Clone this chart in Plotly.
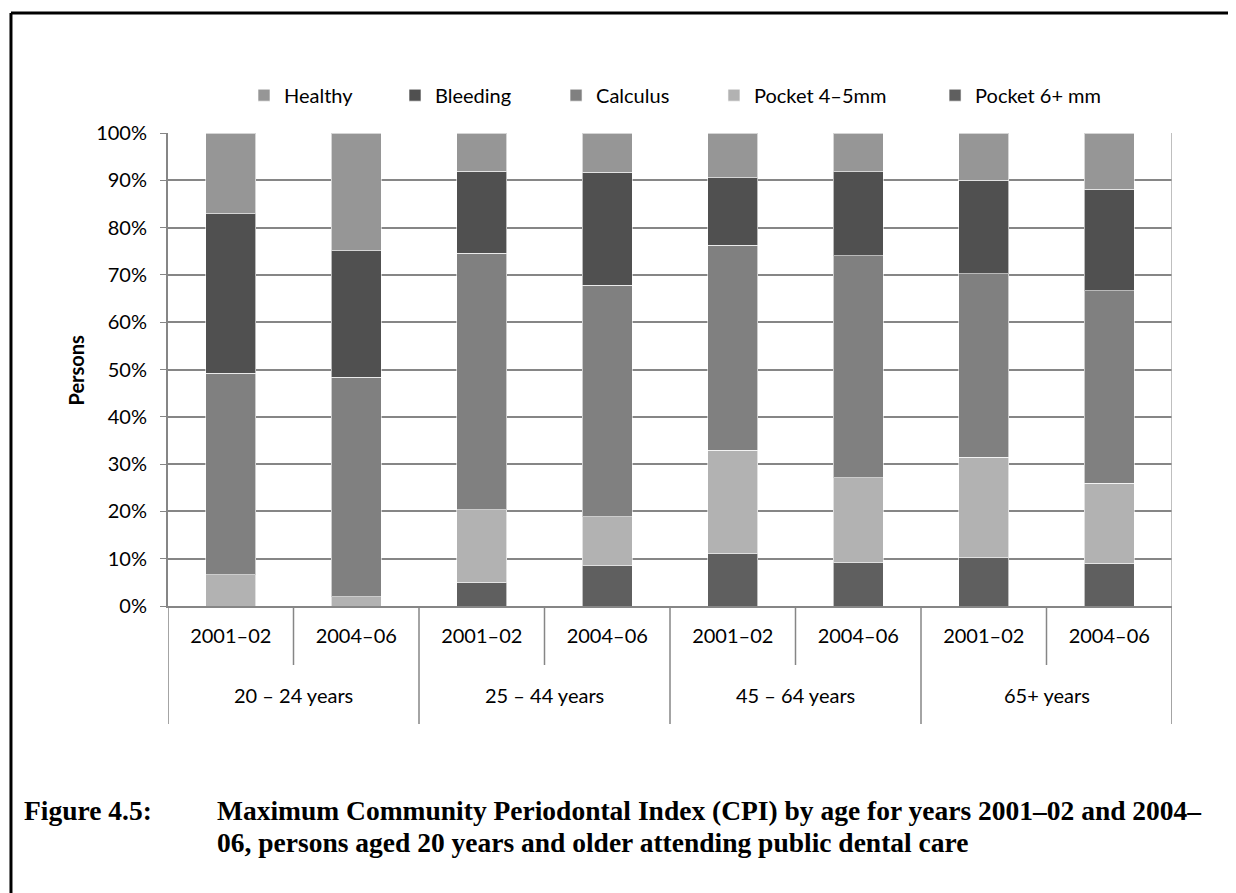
import plotly.graph_objects as go

# data (percent of persons)
age_groups = ["20 – 24 years", "25 – 44 years", "45 – 64 years", "65+ years"]
periods = ["2001–02", "2004–06"]

pocket_6 = [0.0, 0.0, 5.0, 8.5, 11.0, 9.1, 10.2, 9.0]
pocket_45 = [6.6, 2.0, 15.3, 10.4, 21.9, 18.0, 21.2, 16.9]
calculus = [42.6, 46.4, 54.3, 48.9, 43.4, 46.9, 38.8, 40.7]
bleeding = [33.7, 26.7, 17.3, 23.9, 14.2, 17.8, 19.8, 21.5]
healthy = [17.1, 24.9, 8.1, 8.3, 9.5, 8.2, 10.0, 11.9]

# (name, values, colour, legend id, legend x) -- stacked bottom to top
series = [
    ("Pocket 6+ mm", pocket_6, "#5f5f5f", "legend5", 0.7640),
    ("Pocket 4–5mm", pocket_45, "#b2b2b2", "legend4", 0.5438),
    ("Calculus", calculus, "#808080", "legend3", 0.3865),
    ("Bleeding", bleeding, "#505050", "legend2", 0.2261),
    ("Healthy", healthy, "#969696", "legend", 0.0757),
]

period_labels = [p for _ in age_groups for p in periods]
xpos = list(range(len(period_labels)))
n_per = len(periods)

FONT = "Lato, 'Open Sans', sans-serif"
CAPTION_FONT = "'Liberation Serif', 'Times New Roman', serif"
GRID = "#868686"

fig = go.Figure()
legends = {}
for name, vals, color, leg, lx in series:
    fig.add_trace(go.Bar(
        x=xpos, y=vals, name=name, legend=leg,
        marker=dict(color=color, line=dict(color="rgba(255,255,255,0.6)", width=1)),
    ))
    legends[leg] = dict(
        orientation="h", x=lx, xanchor="left", y=1.080, yanchor="middle",
        font=dict(size=20, color="black"), itemwidth=30, bgcolor="rgba(0,0,0,0)",
    )

fig.update_layout(
    width=1236, height=893,
    barmode="stack", bargap=0.6,
    plot_bgcolor="white", paper_bgcolor="white",
    # page body adds an 8px offset, margins compensate for it
    margin=dict(l=160, r=72, t=125, b=295, autoexpand=False),
    font=dict(family=FONT, size=20, color="black"),
    showlegend=True,
    xaxis=dict(
        range=[-0.5, len(xpos) - 0.5],
        tickvals=xpos, ticktext=period_labels,
        ticks="outside", ticklen=11, tickcolor="rgba(0,0,0,0)",
        showgrid=False, zeroline=False,
        showline=True, linecolor=GRID, linewidth=2,
        tickfont=dict(size=20),
    ),
    yaxis=dict(
        range=[0, 100], dtick=10, ticksuffix="%",
        showgrid=True, gridcolor=GRID, gridwidth=1.5,
        zeroline=False,
        showline=True, linecolor=GRID, linewidth=2,
        ticks="outside", ticklen=6, tickcolor=GRID,
        ticklabelstandoff=9,
        tickfont=dict(size=20),
    ),
    **legends,
)

# category dividers below the axis
shapes = []
for i in range(len(xpos) + 1):
    outer = i % n_per == 0
    shapes.append(dict(
        type="line", xref="x", yref="paper",
        x0=i - 0.5, x1=i - 0.5, y0=0, y1=-0.2495 if outer else -0.1247,
        line=dict(color=GRID, width=1.5),
    ))
# light right edge of the plot
shapes.append(dict(type="line", xref="x", yref="paper", x0=len(xpos) - 0.5, x1=len(xpos) - 0.5,
                   y0=0, y1=1, line=dict(color="#aaaaaa", width=1.5)))
# page frame (top and left)
shapes.append(dict(type="line", xref="paper", yref="paper", x0=-0.1564, x1=1.2,
                   y0=1.2537, y1=1.2537, line=dict(color="black", width=3)))
shapes.append(dict(type="line", xref="paper", yref="paper", x0=-0.1564, x1=-0.1564,
                   y0=1.2537, y1=-0.7, line=dict(color="black", width=3)))
fig.update_layout(shapes=shapes)

# y axis title
fig.add_annotation(x=-0.1056, xref="paper", y=0.5, yref="paper", textangle=-90,
                   text="<b>Persons</b>", showarrow=False, font=dict(size=20))

# age group labels
for g, grp in enumerate(age_groups):
    fig.add_annotation(
        x=g * n_per + (n_per - 1) / 2, xref="x", y=-0.188, yref="paper",
        text=grp, showarrow=False, font=dict(size=20), yanchor="middle",
    )

# caption
cap_font = dict(family=CAPTION_FONT, size=27.5, color="black")
fig.add_annotation(x=-0.1454, xref="paper", y=-0.4313, yref="paper", xanchor="left", yanchor="middle",
                   text="<b>Figure 4.5:</b>", showarrow=False, font=cap_font)
fig.add_annotation(x=0.0468, xref="paper", y=-0.4313, yref="paper", xanchor="left", yanchor="middle",
                   text="<b>Maximum Community Periodontal Index (CPI) by age for years 2001–02 and 2004–</b>",
                   showarrow=False, font=cap_font)
fig.add_annotation(x=0.0468, xref="paper", y=-0.501, yref="paper", xanchor="left", yanchor="middle",
                   text="<b>06, persons aged 20 years and older attending public dental care</b>",
                   showarrow=False, font=cap_font)

fig.write_html("out.html")
